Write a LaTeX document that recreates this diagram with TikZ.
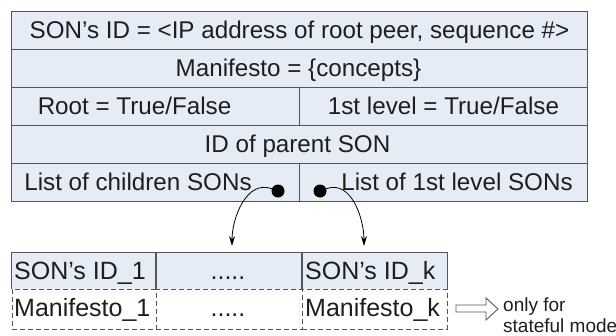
\documentclass[tikz,border=0pt]{standalone}
\usepackage{fontspec}
\setmainfont{Liberation Sans}
\usetikzlibrary{arrows.meta}
\definecolor{cellfill}{RGB}{229,236,246}
\definecolor{rule}{RGB}{85,85,85}
\definecolor{ink}{RGB}{30,30,30}
\tikzset{
  cell/.style={draw=rule, line width=1pt, fill=cellfill, rectangle, inner sep=0pt},
  plaincell/.style={fill=cellfill, rectangle, inner sep=0pt, draw=none},
  dashcell/.style={draw=rule, line width=1pt, dash pattern=on 5pt off 3pt, fill=white, rectangle, inner sep=0pt},
  txt/.style={inner sep=0pt, text=ink, font=\fontsize{24.2}{28}\selectfont, anchor=base},
  ltxt/.style={inner sep=0pt, text=ink, font=\fontsize{25}{29}\selectfont, anchor=base west},
  ctxt/.style={inner sep=0pt, text=ink, font=\fontsize{25}{29}\selectfont, anchor=base},
  note/.style={inner sep=0pt, text=ink, font=\fontsize{19}{22}\selectfont, anchor=base west},
  dot/.style={circle, fill=black, inner sep=0pt, minimum size=13pt},
  link/.style={draw=black, line width=0.8pt, -{Stealth[length=10pt,width=6pt]}},
}
\begin{document}
\begin{tikzpicture}[x=1pt, y=-1pt]
\useasboundingbox (0,0) rectangle (616,335);

% SON record: five rows
\node[cell, minimum width=576pt, minimum height=38pt] (id)   at (299,30)  {};
\node[cell, minimum width=576pt, minimum height=38pt] (man)  at (299,68)  {};
\node[cell, minimum width=288pt, minimum height=38pt] (root) at (155,106) {};
\node[cell, minimum width=288pt, minimum height=38pt] (lvl)  at (443,106) {};
\node[cell, minimum width=576pt, minimum height=38pt] (par)  at (299,144) {};
\node[cell, minimum width=288pt, minimum height=38pt] (kids) at (155,182) {};
\node[cell, minimum width=288pt, minimum height=38pt] (first) at (443,182) {};

\node[txt] (tid)   at (299.5,38)  {SON’s ID = <IP address of root peer, sequence \#>};
\node[txt] (tman)  at (298.5,76.5) {Manifesto = \{concepts\}};
\node[txt] (troot) at (134.5,114.5) {Root = True/False};
\node[txt] (tlvl)  at (443.5,114.5) {1st level = True/False};
\node[txt] (tpar)  at (297.5,152.5) {ID of parent SON};
\node[txt] (tkids) at (138,190.5) {List of children SONs};
\node[txt] (tfirst) at (457,190.5) {List of 1st level SONs};

% list of SONs: IDs (solid) and manifestos (dashed)
\node[plaincell, minimum width=144pt, minimum height=36pt] (a1) at (84,271)  {};
\node[plaincell, minimum width=146pt, minimum height=36pt] (a2) at (229,271) {};
\node[plaincell, minimum width=145pt, minimum height=36pt] (a3) at (374.5,271) {};
\node[dashcell, minimum width=144pt, minimum height=40pt] (b1) at (84,309)  {};
\node[dashcell, minimum width=146pt, minimum height=40pt] (b2) at (229,309) {};
\node[dashcell, minimum width=145pt, minimum height=40pt] (b3) at (374.5,309) {};
\foreach \c in {a1,a2,a3}
  \draw[rule, line width=1pt] (\c.south west) |- (\c.north east) -- (\c.south east);

\node[ltxt] (s1) at (14,279.5)  {SON’s ID\_1};
\node[ctxt] (s2) at (228,279.5) {.....};
\node[ltxt] (s3) at (305,279.5) {SON’s ID\_k};
\node[ltxt] (m1) at (14,316.5)  {Manifesto\_1};
\node[ctxt] (m2) at (228,316.5) {.....};
\node[ltxt] (m3) at (305,316.5) {Manifesto\_k};

% pointers
\node[dot] (p1) at (278,191) {};
\node[dot] (p2) at (320,191) {};
\coordinate (t1) at (232,246);
\coordinate (t3) at (364,246);
\draw[link] (p1) to[out=160, in=90] (t1);
\draw[link] (p2) to[out=20, in=90] (t3);

% hollow block arrow and note
\draw[rule, line width=0.9pt, fill=white, line join=miter]
  (456,305) -- (486,305) -- (486,298) -- (498,309) -- (486,320) -- (486,312) -- (456,312) -- cycle;
\node[note] (n1) at (503,311.5) {only for};
\node[note] (n2) at (503,332.5) {stateful mode};
\end{tikzpicture}
\end{document}
